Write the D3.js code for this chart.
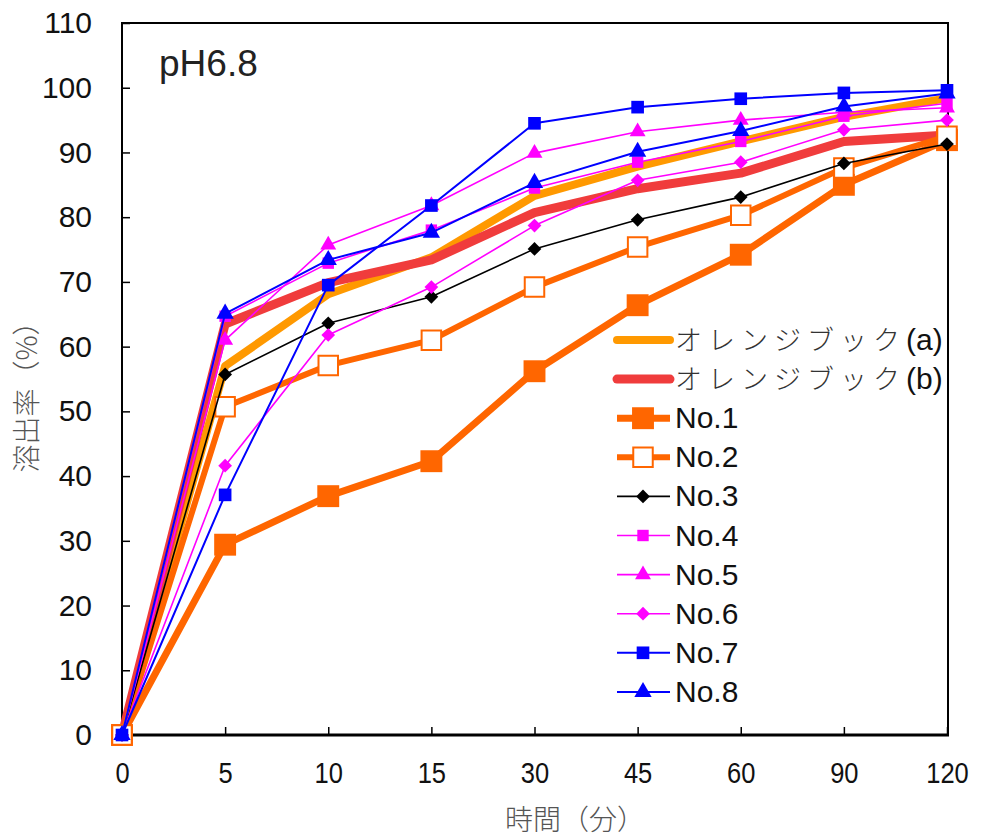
<!DOCTYPE html>
<html><head><meta charset="utf-8">
<script src="https://cdn.jsdelivr.net/npm/d3@7"></script>
<style>body{margin:0;background:#fff}</style>
</head><body>
<svg id="c" width="984" height="839"></svg>
<script>
const categories = ["0","5","10","15","30","45","60","90","120"];
const yTicks = [0,10,20,30,40,50,60,70,80,90,100,110];
const seriesNames = ["オレンジブック(a)","オレンジブック(b)","No.1","No.2","No.3","No.4","No.5","No.6","No.7","No.8"];
const orangeA = [0,57.0,68.1,73.8,83.3,87.8,91.7,95.5,98.4];
const orangeB = [0,63.5,69.9,73.4,80.7,84.4,86.8,91.7,92.7];
const no1 = [0,29.4,36.9,42.3,56.2,66.4,74.2,85.0,91.9];
const no2 = [0,50.7,57.1,61.0,69.2,75.4,80.3,87.6,92.5];
const no3 = [0,55.7,63.6,67.7,75.1,79.6,83.1,88.3,91.3];
const no4 = [0,64.7,72.9,78.0,84.5,88.5,91.7,95.6,97.6];
const no5 = [0,61.0,75.7,81.8,89.9,93.2,95.0,96.2,96.9];
const no6 = [0,41.6,61.8,69.2,78.7,85.7,88.5,93.5,95.0];
const no7 = [0,37.1,69.5,81.8,94.5,97.0,98.3,99.2,99.6];
const no8 = [0,65.1,73.4,77.6,85.3,90.1,93.3,97.1,99.1];

const values = [orangeA,orangeB,no1,no2,no3,no4,no5,no6,no7,no8];
const styles = [
 {color:"#FF9900", width:8, symbol:null},
 {color:"#F03C3C", width:9, symbol:null},
 {color:"#FF6600", width:7, symbol:d3.symbolSquare, size:480, fill:"#FF6600"},
 {color:"#FF6600", width:6, symbol:d3.symbolSquare, size:380, fill:"#fff", mstroke:2},
 {color:"#000000", width:1.6, symbol:d3.symbolDiamond2, size:120, fill:"#000"},
 {color:"#FF00FF", width:1.6, symbol:d3.symbolSquare, size:130, fill:"#FF00FF"},
 {color:"#FF00FF", width:1.6, symbol:d3.symbolTriangle, size:110, fill:"#FF00FF"},
 {color:"#FF00FF", width:1.6, symbol:d3.symbolDiamond2, size:120, fill:"#FF00FF"},
 {color:"#0000FF", width:2, symbol:d3.symbolSquare, size:160, fill:"#0000FF"},
 {color:"#0000FF", width:2, symbol:d3.symbolTriangle, size:130, fill:"#0000FF"}
];

const svg = d3.select("#c");
const x = d3.scalePoint().domain(categories).range([122, 947]);
const y = d3.scaleLinear().domain([0,110]).range([735, 23]);

// frame
svg.append("rect").attr("x",122).attr("y",23).attr("width",826).attr("height",712)
  .attr("fill","none").attr("stroke","#000").attr("stroke-width",2);

const num = "'Liberation Sans', Arial, sans-serif";
const ya = svg.append("g").attr("transform","translate(122,0)")
  .call(d3.axisLeft(y).tickValues(yTicks).tickSize(-8).tickPadding(30));
ya.select(".domain").remove();
ya.selectAll("line").attr("stroke","#000").attr("stroke-width",1.5);
ya.selectAll("text").attr("font-family",num).attr("font-size",30).attr("fill","#111");

const xa = svg.append("g").attr("transform","translate(0,735)")
  .call(d3.axisBottom(x).tickSize(-8).tickPadding(27));
xa.select(".domain").remove();
xa.selectAll("line").attr("stroke","#000").attr("stroke-width",1.5);
xa.selectAll("text").attr("font-family",num).attr("font-size",30).attr("fill","#111")
  .attr("transform","scale(0.85,1)");
svg.append("line").attr("x1",121).attr("x2",949).attr("y1",735).attr("y2",735)
  .attr("stroke","#000").attr("stroke-width",3);

// title
svg.append("text").attr("x",159).attr("y",76).text("pH6.8")
  .attr("font-family",num).attr("font-size",37).attr("fill","#222");

// axis titles
const cjk = "'Noto Sans CJK JP', sans-serif";
svg.append("text").attr("transform","translate(37,390) rotate(-90)")
  .attr("text-anchor","middle").attr("font-family",cjk).attr("font-size",28)
  .attr("font-weight",300).attr("fill","#555").text("溶出率（%）");
svg.append("text").attr("x",575).attr("y",830)
  .attr("text-anchor","middle").attr("font-family",cjk).attr("font-size",28)
  .attr("font-weight",300).attr("fill","#555").text("時間（分）");

// series
const line = d3.line().x((d,i)=>x(categories[i])).y(d=>y(d));
values.forEach((vals,k)=>{
  const s = styles[k];
  const g = svg.append("g");
  g.append("path").attr("d",line(vals)).attr("fill","none")
    .attr("stroke",s.color).attr("stroke-width",s.width).attr("stroke-linejoin","round");
  if (s.symbol) {
    g.selectAll("path.m").data(vals).join("path").attr("class","m")
      .attr("transform",(d,i)=>`translate(${x(categories[i])},${y(d)})`)
      .attr("d",d3.symbol(s.symbol, s.size)())
      .attr("fill",s.fill).attr("stroke",s.mstroke?s.color:"none").attr("stroke-width",s.mstroke||0);
  }
});

// legend
const lg = svg.append("g");
seriesNames.forEach((name,k)=>{
  const s = styles[k];
  const cy = 340 + k*39.1;
  const g = lg.append("g");
  g.append("line").attr("x1",617).attr("x2",670).attr("y1",cy).attr("y2",cy)
    .attr("stroke",s.color).attr("stroke-width",s.width).attr("stroke-linecap", k<2?"round":"butt");
  if (s.symbol) {
    g.append("path").attr("transform",`translate(643,${cy})`)
      .attr("d",d3.symbol(s.symbol, s.size)())
      .attr("fill",s.fill).attr("stroke",s.mstroke?s.color:"none").attr("stroke-width",s.mstroke||0);
  }
  const t = g.append("text").attr("x",675).attr("y",cy+10).attr("fill","#111");
  if (k<2) {
    const jp = name.replace(/\(.*\)/,"");
    const tail = name.slice(jp.length);
    t.append("tspan").attr("font-family",cjk).attr("font-weight",300).attr("font-size",27)
      .attr("letter-spacing",6).attr("fill","#333").text(jp);
    t.append("tspan").attr("font-family",num).attr("font-size",30).text(tail);
  } else {
    t.attr("font-family",num).attr("font-size",30).text(name);
  }
});
</script>
</body></html>
